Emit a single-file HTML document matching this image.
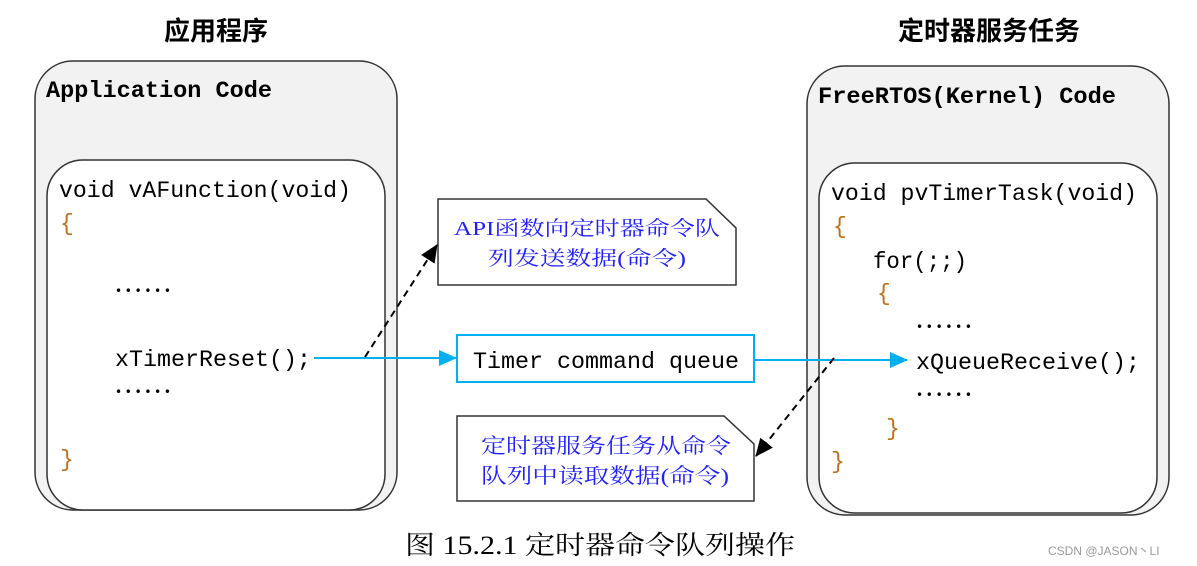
<!DOCTYPE html>
<html><head><meta charset="utf-8"><style>
html,body{margin:0;padding:0;background:#fff;width:1197px;height:566px;overflow:hidden}
svg text{font-family:"Liberation Mono","Noto Serif CJK SC",monospace}
.cj{font-family:"Liberation Serif","Noto Serif CJK SC",serif}
.hd{font-family:"Liberation Sans","Noto Sans CJK SC",sans-serif;font-weight:bold}
.dt{font-family:"DejaVu Sans",sans-serif}
</style></head><body>
<svg width="1197" height="566" viewBox="0 0 1197 566" xmlns="http://www.w3.org/2000/svg">
<defs>
<marker id="ab" markerWidth="18" markerHeight="18" refX="17" refY="9" orient="auto" markerUnits="userSpaceOnUse" viewBox="0 0 18 18"><path d="M0,1 L18,9 L0,17z" fill="#00b0f0"/></marker>
<marker id="ak" markerWidth="18" markerHeight="18" refX="17" refY="9" orient="auto" markerUnits="userSpaceOnUse" viewBox="0 0 18 18"><path d="M0,1 L18,9 L0,17z" fill="#000"/></marker>
</defs>
<text class="hd" x="216" y="40" font-size="26" text-anchor="middle">应用程序</text>
<text class="hd" x="989" y="40" font-size="26" text-anchor="middle">定时器服务任务</text>

<rect x="35" y="61" width="362" height="449" rx="38" fill="#f2f2f2" stroke="#333" stroke-width="1.5"/>
<rect x="47" y="160" width="338" height="350" rx="36" fill="#fff" stroke="#333" stroke-width="1.5"/>
<text x="46" y="97" font-size="23" font-weight="bold" textLength="226" lengthAdjust="spacingAndGlyphs">Application Code</text>
<text x="59" y="197" font-size="23" textLength="292" lengthAdjust="spacingAndGlyphs">void vAFunction(void)</text>
<text x="60" y="230" font-size="23" fill="#c0701a">{</text>
<text class="dt" x="115" y="295" font-size="12" textLength="56" lengthAdjust="spacing">••••••</text>
<text x="115" y="366" font-size="23" textLength="196" lengthAdjust="spacingAndGlyphs">xTimerReset();</text>
<text class="dt" x="115" y="396" font-size="12" textLength="56" lengthAdjust="spacing">••••••</text>
<text x="60" y="466" font-size="23" fill="#c0701a">}</text>

<rect x="807" y="66" width="362" height="449" rx="38" fill="#f2f2f2" stroke="#333" stroke-width="1.5"/>
<rect x="819" y="163" width="338" height="350" rx="36" fill="#fff" stroke="#333" stroke-width="1.5"/>
<text x="818" y="103" font-size="23" font-weight="bold" textLength="298" lengthAdjust="spacingAndGlyphs">FreeRTOS(Kernel) Code</text>
<text x="831" y="200" font-size="23" textLength="306" lengthAdjust="spacingAndGlyphs">void pvTimerTask(void)</text>
<text x="833" y="233" font-size="23" fill="#c0701a">{</text>
<text x="873" y="268" font-size="23" textLength="94" lengthAdjust="spacingAndGlyphs">for(;;)</text>
<text x="877" y="300" font-size="23" fill="#c0701a">{</text>
<text class="dt" x="916" y="331" font-size="12" textLength="56" lengthAdjust="spacing">••••••</text>
<text x="916" y="369" font-size="23" textLength="224" lengthAdjust="spacingAndGlyphs">xQueueReceive();</text>
<text class="dt" x="916" y="399" font-size="12" textLength="56" lengthAdjust="spacing">••••••</text>
<text x="886" y="435" font-size="23" fill="#c0701a">}</text>
<text x="831" y="468" font-size="23" fill="#c0701a">}</text>

<path d="M438,199 H706 L736,228 V285 H438 Z" fill="#fff" stroke="#333" stroke-width="1.5"/>
<text class="cj" x="587" y="235" font-size="20" fill="#2020ff" text-anchor="middle" textLength="266" lengthAdjust="spacingAndGlyphs">API函数向定时器命令队</text>
<text class="cj" x="587" y="265" font-size="20" fill="#2020ff" text-anchor="middle" textLength="198" lengthAdjust="spacingAndGlyphs">列发送数据(命令)</text>

<rect x="457" y="335" width="297" height="47" fill="#fff" stroke="#00b0f0" stroke-width="2"/>
<text x="473" y="368" font-size="23" textLength="266" lengthAdjust="spacingAndGlyphs">Timer command queue</text>

<path d="M457,416 H724 L754,444 V501 H457 Z" fill="#fff" stroke="#333" stroke-width="1.5"/>
<text class="cj" x="481" y="453" font-size="21" fill="#2020ff" textLength="250" lengthAdjust="spacingAndGlyphs">定时器服务任务从命令</text>
<text class="cj" x="481" y="483" font-size="21" fill="#2020ff" textLength="248" lengthAdjust="spacingAndGlyphs">队列中读取数据(命令)</text>

<line x1="314" y1="358" x2="456" y2="358" stroke="#00b0f0" stroke-width="2" marker-end="url(#ab)"/>
<line x1="754" y1="360" x2="907" y2="360" stroke="#00b0f0" stroke-width="2" marker-end="url(#ab)"/>
<line x1="365" y1="357" x2="437" y2="245" stroke="#000" stroke-width="2" stroke-dasharray="7,5" marker-end="url(#ak)"/>
<line x1="834" y1="358" x2="756" y2="456" stroke="#000" stroke-width="2" stroke-dasharray="7,5" marker-end="url(#ak)"/>

<text class="cj" x="600" y="554" font-size="26" text-anchor="middle" textLength="390" lengthAdjust="spacingAndGlyphs">图 15.2.1  定时器命令队列操作</text>
<text x="1048" y="555" font-size="12" fill="#999" style="font-family:'Liberation Sans','Noto Sans CJK SC',sans-serif">CSDN @JASON丶LI</text>
</svg>
</body></html>
